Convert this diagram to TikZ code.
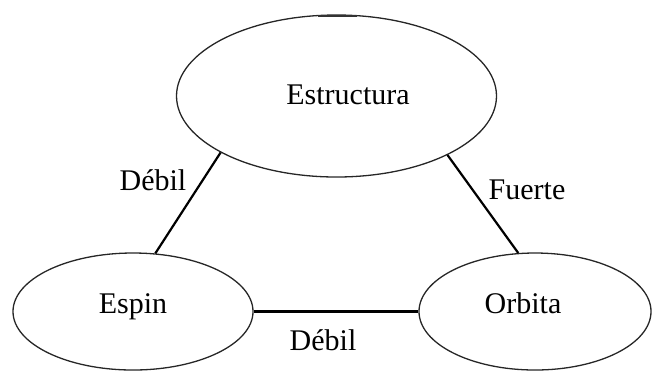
\documentclass[tikz,border=0pt]{standalone}
\usepackage{fontspec}
\setmainfont{Liberation Serif}
\usetikzlibrary{shapes.geometric}
\begin{document}
\begin{tikzpicture}[x=0.5pt,y=-0.5pt,
  ell/.style={draw=black!85, line width=0.65pt, ellipse, inner sep=0pt},
  txt/.style={font=\fontsize{15}{18}\selectfont, inner sep=0pt},
  conn/.style={draw=black, line width=1.1pt}]
\useasboundingbox (0,0) rectangle (652,372);
\node[ell, minimum width=160pt, minimum height=81pt] (est) at (336.5,96) {};
\node[ell, minimum width=120pt, minimum height=58.5pt] (esp) at (133,311.5) {};
\node[ell, minimum width=116pt, minimum height=58.5pt] (orb) at (535,311.5) {};
\node[txt] (testr) at (348,95) {Estructura};
\node[txt] (tesp) at (133,307) {Espin};
\node[txt] (torb) at (523,303) {Orbita};
\draw[conn] (est.206.8) -- (esp.69.4);
\draw[conn] (est.332.6) -- (orb.106.2);
\draw[conn] (esp.east) -- (orb.west);
\node[txt] (l1) at (153,180) {Débil};
\node[txt] (l2) at (527,190) {Fuerte};
\node[txt] (l3) at (323,340) {Débil};
\coordinate (m1) at (318,15.6);
\coordinate (m2) at (357,15.6);
\draw[line width=1pt, black!80] (m1) -- (m2);
\end{tikzpicture}
\end{document}
